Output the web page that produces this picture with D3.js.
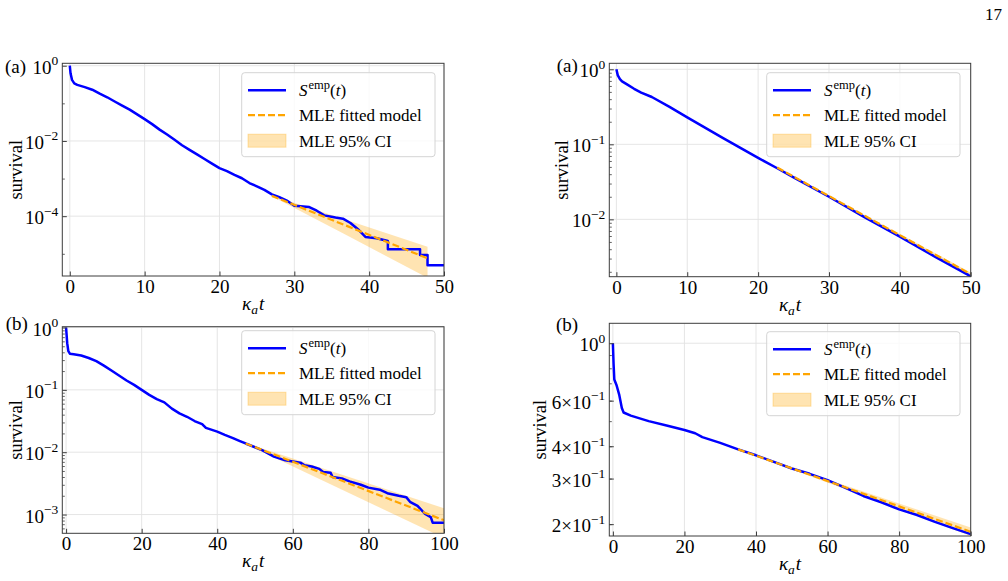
<!DOCTYPE html>
<html>
<head>
<meta charset="utf-8">
<script src="https://cdn.jsdelivr.net/npm/d3@7"></script>
<style>
  body { margin: 0; background: #fff; }
</style>
</head>
<body>
<svg id="fig" width="1008" height="581"></svg>
<script>
// ---- data ----
// top-left (a)
var aT = [0, 0, 0.1, 0.3, 0.6, 1, 2, 3, 4, 5, 6, 7, 8, 9, 10, 11, 12, 13, 14, 15, 16, 17, 18, 19, 20,
  21, 22, 23, 24, 25, 26, 27, 28, 29, 30, 32, 33, 34, 35.5, 36.5, 37.5, 38.5, 39.5, 41, 42.5, 42.5,
  46.8, 46.8, 47.8, 47.8, 50];
var aS = [1, 1, 0.63, 0.42, 0.34, 0.31, 0.27, 0.23, 0.18, 0.145, 0.112, 0.087, 0.068, 0.051, 0.038,
  0.028, 0.020, 0.0148, 0.0107, 0.0077, 0.0058, 0.0044, 0.0033, 0.0025, 0.0019,
  0.00158, 0.00126, 0.00102, 7.6e-4, 6.2e-4, 5.0e-4, 3.8e-4, 3.2e-4, 2.6e-4, 1.9e-4, 1.75e-4, 1.4e-4,
  1.05e-4, 9.2e-5, 8.6e-5, 6.6e-5, 4.5e-5, 2.8e-5, 2.6e-5, 2.2e-5, 1.32e-5,
  1.32e-5, 9.3e-6, 9.3e-6, 5.0e-6, 5.0e-6];
var aFitT = [27, 47.8];
var aFitS = [3.47e-4, 7.6e-6];
var aCiT = [27, 37, 47.8];
var aCiHi = [3.55e-4, 7.9e-5, 1.55e-5];
var aCiLo = [3.39e-4, 3.1e-5, 2.3e-6];

// top-right (a)
var bT = [0, 0.2, 0.5, 0.8, 1.5, 2.5, 3.5, 5, 7.5, 10, 15, 20, 22.7, 25, 30, 35, 40, 45, 50];
var bS = [1, 0.83, 0.74, 0.69, 0.63, 0.55, 0.49, 0.427, 0.316, 0.229, 0.122, 0.066, 0.048, 0.0363,
  0.020, 0.0107, 0.0059, 0.00316, 0.00174];
var bFitT = [22.7, 50];
var bFitS = [0.049, 0.00186];
var bCiT = [22.7, 50];
var bCiHi = [0.049, 0.00196];
var bCiLo = [0.049, 0.00178];

// bottom-left (b)
var cT = [0, 0.3, 0.6, 1, 2, 4, 6, 8, 10, 12, 14, 16, 18, 20, 22, 24, 26, 28, 30, 32, 34, 36, 37, 40,
  42, 44, 46, 47.5, 50, 52, 55, 58, 60, 62, 63, 65, 67, 68, 70, 70.5, 73, 75, 78, 80, 83, 85, 88, 90,
  91, 93, 95, 96.5, 97, 100];
var cS = [1, 0.56, 0.417, 0.38, 0.372, 0.355, 0.324, 0.288, 0.245, 0.204, 0.17, 0.141, 0.12, 0.1,
  0.083, 0.071, 0.063, 0.05, 0.042, 0.037, 0.0316, 0.0282, 0.0245, 0.0214, 0.019, 0.017, 0.0151,
  0.0138, 0.012, 0.0107, 0.0085, 0.0074, 0.0071, 0.0068, 0.0062, 0.0059, 0.0054, 0.0048, 0.0047,
  0.0040, 0.0038, 0.0034, 0.0030, 0.0027, 0.0025, 0.0022, 0.0020, 0.0019, 0.0016, 0.00138,
  0.00102, 0.00091, 0.00074, 0.00074];
var cFitT = [47.5, 100];
var cFitS = [0.0138, 8.1e-4];
var cCiT = [47.5, 100];
var cCiHi = [0.0141, 0.00126];
var cCiLo = [0.0135, 4.2e-4];

// bottom-right (b)
var dT = [0, 0.2, 0.4, 1.0, 1.8, 2.5, 3, 5, 10, 15, 20, 23, 25, 30, 35, 40, 45, 50, 55, 60, 65, 70,
  75, 80, 85, 90, 95, 100];
var dS = [1, 0.83, 0.724, 0.69, 0.63, 0.562, 0.54, 0.525, 0.50, 0.481, 0.462, 0.449, 0.434, 0.412,
  0.389, 0.369, 0.348, 0.328, 0.313, 0.296, 0.276, 0.257, 0.243, 0.228, 0.217, 0.204, 0.193, 0.183];
var dFitT = [35, 100];
var dFitS = [0.389, 0.187];
var dCiT = [35, 100];
var dCiHi = [0.389, 0.194];
var dCiLo = [0.389, 0.180];

// ticks
var xTicks50 = [0, 10, 20, 30, 40, 50];
var xTicks100 = [0, 20, 40, 60, 80, 100];
var yTicksA = [1, 1e-2, 1e-4];
var yLabelsA = [['10', '0'], ['10', '\u22122'], ['10', '\u22124']];
var yMinorA = [1e-1, 1e-3, 1e-5];
var yTicksB = [1, 1e-1, 1e-2];
var yLabelsB = [['10', '0'], ['10', '\u22121'], ['10', '\u22122']];
var yTicksC = [1, 1e-1, 1e-2, 1e-3];
var yLabelsC = [['10', '0'], ['10', '\u22121'], ['10', '\u22122'], ['10', '\u22123']];
var yTicksD = [1, 0.6, 0.4, 0.3, 0.2];
var yLabelsD = [['10', '0'], ['6\u00d710', '\u22121'], ['4\u00d710', '\u22121'], ['3\u00d710', '\u22121'], ['2\u00d710', '\u22121']];

function subDecades(lo, hi) {
  // minor log ticks 2..9 x 10^k
  var out = [];
  for (var k = lo; k <= hi; k++) for (var m = 2; m <= 9; m++) out.push(m * Math.pow(10, k));
  return out;
}

var FONT = '"Liberation Serif", "DejaVu Serif", serif';
var BLUE = '#0000ff', ORANGE = '#ffa500', FRAME = '#3c3c3c';
var TICK_FS = 19, LEG_FS = 17;
var svg = d3.select('#fig').attr('font-family', FONT);

var panels = [
  {id: 'a1', tag: '(a)', tagX: 5, tagY: 73, box: [62.3, 444, 63.3, 276], xmax: 50, ylim: [2.57e-6, 1.159],
   xticks: xTicks50, yticks: yTicksA, ylabels: yLabelsA, yminor: yMinorA, ygrid: yTicksA,
   empT: aT, empS: aS, fitT: aFitT, fitS: aFitS, ciT: aCiT, ciLo: aCiLo, ciHi: aCiHi,
   leg: [241.7, 72.7], ylabX: 22},
  {id: 'a2', tag: '(a)', tagX: 556.7, tagY: 72, box: [609.3, 970.7, 63.3, 276.7], xmax: 50, ylim: [1.72e-3, 1.202],
   xticks: xTicks50, yticks: yTicksB, ylabels: yLabelsB, yminor: subDecades(-3, -1), ygrid: yTicksB,
   empT: bT, empS: bS, fitT: bFitT, fitS: bFitS, ciT: bCiT, ciLo: bCiLo, ciHi: bCiHi,
   leg: [766.7, 72.7], ylabX: 568},
  {id: 'b1', tag: '(b)', tagX: 5.7, tagY: 330, box: [62.3, 444, 326.7, 533.3], xmax: 100, ylim: [5.0e-4, 1.03],
   xticks: xTicks100, yticks: yTicksC, ylabels: yLabelsC, yminor: subDecades(-4, -1), ygrid: yTicksC,
   empT: cT, empS: cS, fitT: cFitT, fitS: cFitS, ciT: cCiT, ciLo: cCiLo, ciHi: cCiHi,
   leg: [241.7, 330.7], ylabX: 22},
  {id: 'b2', tag: '(b)', tagX: 556, tagY: 331, box: [609.3, 970.7, 323.3, 536], xmax: 100, ylim: [0.18, 1.194],
   xticks: xTicks100, yticks: yTicksD, ylabels: yLabelsD, yminor: subDecades(-1, -1), ygrid: [1],
   empT: dT, empS: dS, fitT: dFitT, fitS: dFitS, ciT: dCiT, ciLo: dCiLo, ciHi: dCiHi,
   leg: [766.7, 331.7], ylabX: 546}
];

function drawPanel(p) {
  var L = p.box[0], R = p.box[1], T = p.box[2], B = p.box[3];
  var x = d3.scaleLinear().domain([-1, p.xmax]).range([L, R]);
  var y = d3.scaleLog().domain(p.ylim).range([B, T]);
  var g = svg.append('g');

  g.append('clipPath').attr('id', 'clip-' + p.id)
    .append('rect').attr('x', L).attr('y', T).attr('width', R - L).attr('height', B - T);

  // grid
  var grid = g.append('g').attr('stroke', '#e2e2e2').attr('stroke-width', 0.9);
  grid.selectAll('line.gx').data(p.xticks).enter().append('line')
    .attr('x1', d => x(d)).attr('x2', d => x(d)).attr('y1', T).attr('y2', B);
  grid.selectAll('line.gy').data(p.ygrid).enter().append('line')
    .attr('x1', L).attr('x2', R).attr('y1', d => y(d)).attr('y2', d => y(d));

  var plot = g.append('g').attr('clip-path', 'url(#clip-' + p.id + ')');

  var ci = p.ciT.map((t, i) => [t, p.ciLo[i], p.ciHi[i]]);
  plot.append('path').datum(ci)
    .attr('fill', ORANGE).attr('fill-opacity', 0.3)
    .attr('d', d3.area().x(d => x(d[0])).y0(d => y(d[1])).y1(d => y(d[2])));

  plot.append('path').datum(d3.zip(p.empT, p.empS))
    .attr('fill', 'none').attr('stroke', BLUE).attr('stroke-width', 2.5)
    .attr('stroke-linejoin', 'round')
    .attr('d', d3.line().x(d => x(d[0])).y(d => y(d[1])));

  plot.append('path').datum(d3.zip(p.fitT, p.fitS))
    .attr('fill', 'none').attr('stroke', ORANGE).attr('stroke-width', 2.2)
    .attr('stroke-dasharray', '7,3')
    .attr('d', d3.line().x(d => x(d[0])).y(d => y(d[1])));

  // axes: inward ticks, own frame
  var ax = g.append('g').attr('transform', `translate(0,${B})`)
    .call(d3.axisBottom(x).tickValues(p.xticks).tickSize(-4.5).tickPadding(3.5).tickFormat(d3.format('d')));
  ax.attr('font-family', FONT).attr('font-size', TICK_FS);
  ax.select('.domain').remove();
  ax.selectAll('line').attr('stroke', FRAME);
  ax.selectAll('text').attr('fill', '#000');

  var ay = g.append('g').attr('transform', `translate(${L},0)`)
    .call(d3.axisLeft(y).tickValues(p.yticks).tickSize(-4.5).tickFormat(''));
  ay.select('.domain').remove();
  ay.selectAll('line').attr('stroke', FRAME);

  var aym = g.append('g').attr('transform', `translate(${L},0)`)
    .call(d3.axisLeft(y).tickValues(p.yminor.filter(v => v > p.ylim[0] && v < p.ylim[1])).tickSize(-2.5).tickFormat(''));
  aym.select('.domain').remove();
  aym.selectAll('line').attr('stroke', FRAME).attr('stroke-width', 0.8);

  // y tick labels with superscripts
  var yl = g.selectAll('text.ylab').data(p.ylabels).enter().append('text')
    .attr('x', L - 4).attr('y', (d, i) => y(p.yticks[i]) + 8)
    .attr('text-anchor', 'end').attr('font-size', TICK_FS);
  yl.append('tspan').text(d => d[0]);
  yl.append('tspan').attr('dy', -8.5).attr('font-size', 13.5).text(d => d[1]);

  g.append('rect').attr('x', L).attr('y', T).attr('width', R - L).attr('height', B - T)
    .attr('fill', 'none').attr('stroke', FRAME).attr('stroke-width', 1);

  // labels
  g.append('text').attr('x', p.tagX).attr('y', p.tagY).attr('font-size', 19).text(p.tag);

  g.append('text').attr('transform', `translate(${p.ylabX},${(T + B) / 2}) rotate(-90)`)
    .attr('text-anchor', 'middle').attr('font-size', 18.5).text('survival');

  var xl = g.append('text').attr('x', (L + R) / 2).attr('y', B + 34)
    .attr('text-anchor', 'middle').attr('font-size', 19).attr('font-style', 'italic');
  xl.append('tspan').text('\u03ba');
  xl.append('tspan').attr('dy', 4).attr('font-size', 13.5).text('a');
  xl.append('tspan').attr('dy', -4).attr('dx', 1).text('t');

  // legend
  var lx = p.leg[0], ly = p.leg[1];
  var lg = g.append('g');
  lg.append('rect').attr('x', lx).attr('y', ly).attr('width', 193.3).attr('height', 84).attr('rx', 3)
    .attr('fill', '#fff').attr('fill-opacity', 0.8).attr('stroke', '#d4d4d4').attr('stroke-width', 1);
  var rows = [ly + 17.5, ly + 42.5, ly + 68];
  lg.append('line').attr('x1', lx + 6.3).attr('x2', lx + 44.3).attr('y1', rows[0]).attr('y2', rows[0])
    .attr('stroke', BLUE).attr('stroke-width', 2.5);
  lg.append('line').attr('x1', lx + 6.3).attr('x2', lx + 44.3).attr('y1', rows[1]).attr('y2', rows[1])
    .attr('stroke', ORANGE).attr('stroke-width', 2.2).attr('stroke-dasharray', '7,3');
  lg.append('rect').attr('x', lx + 6.3).attr('y', rows[2] - 6.5).attr('width', 38).attr('height', 13)
    .attr('fill', ORANGE).attr('fill-opacity', 0.3).attr('stroke', ORANGE).attr('stroke-opacity', 0.3);

  var t1 = lg.append('text').attr('x', lx + 57.3).attr('y', rows[0] + 6).attr('font-size', LEG_FS);
  t1.append('tspan').attr('font-style', 'italic').text('S');
  t1.append('tspan').attr('dy', -7.5).attr('dx', 1).attr('font-size', 12.5).text('emp');
  t1.append('tspan').attr('dy', 7.5).text('(');
  t1.append('tspan').attr('font-style', 'italic').text('t');
  t1.append('tspan').text(')');
  lg.append('text').attr('x', lx + 57.3).attr('y', rows[1] + 6).attr('font-size', LEG_FS).text('MLE fitted model');
  lg.append('text').attr('x', lx + 57.3).attr('y', rows[2] + 6).attr('font-size', LEG_FS).text('MLE 95% CI');
}

panels.forEach(drawPanel);

// page number
svg.append('text').attr('x', 1002).attr('y', 20).attr('text-anchor', 'end').attr('font-size', 17).text('17');
</script>
</body>
</html>
